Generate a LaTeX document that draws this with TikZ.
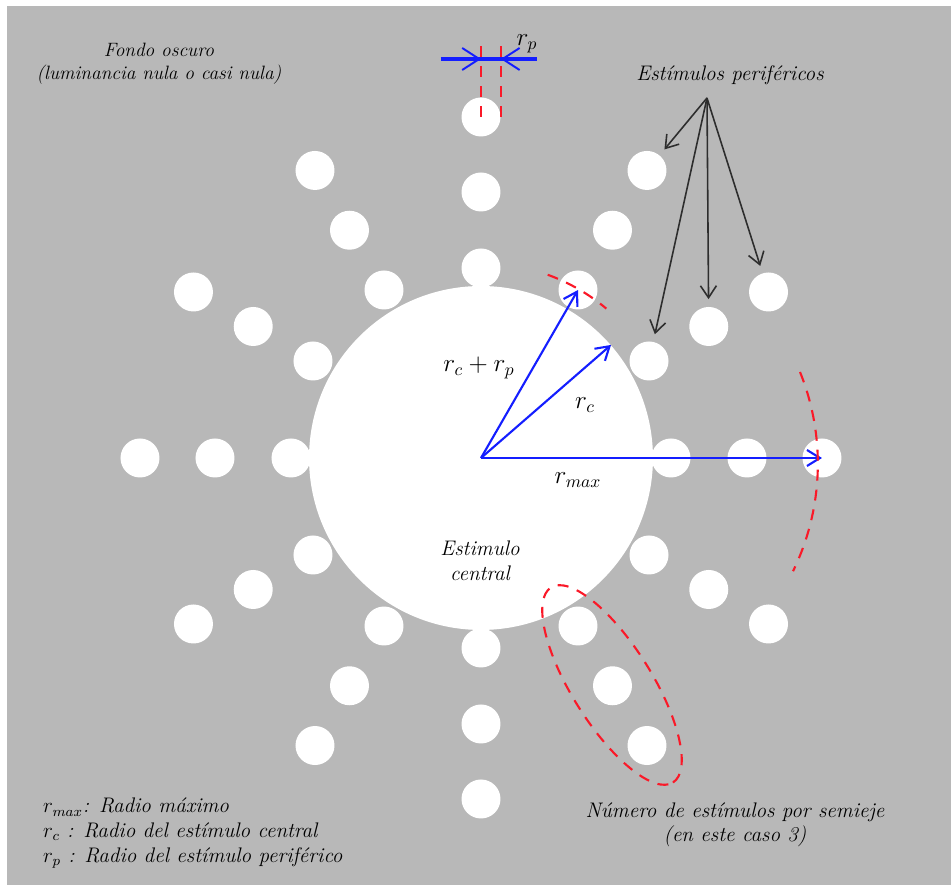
\documentclass[tikz,border=0pt]{standalone}
\usepackage{amsmath}
\usepackage{tikz}
\usetikzlibrary{arrows.meta, positioning}

\definecolor{fondo}{RGB}{184,184,184}
\definecolor{azul}{RGB}{20,30,255}
\definecolor{rojo}{RGB}{250,25,40}
\definecolor{gris}{RGB}{45,45,45}

\begin{document}
\begin{tikzpicture}[x=0.02cm, y=0.02cm,
      dot/.style={circle, fill=white, minimum size=0.78cm, inner sep=0pt},
      lbl/.style={font=\large\itshape, align=center},
      marr/.style={-{Straight Barb[length=2.6mm, width=3.2mm]}, azul, line width=1.2pt},
      parr/.style={-{Straight Barb[length=2.4mm, width=3.2mm]}, gris, line width=0.9pt, shorten >=1.5mm},
      rdash/.style={rojo, line width=1.2pt, dash pattern=on 2.2mm off 1.8mm},
      rpline/.style={azul, line width=2pt, -{Straight Barb[length=3.4mm, width=4.4mm, line width=1.1pt]}}
    ]
  \useasboundingbox (-481,-430) rectangle (470,458);
  \fill[fondo] (-474,-427) rectangle (470,452);

  % estimulos perifericos (3 por semieje)
  \foreach \a in {0,90,180,270} {
    \foreach \r [count=\i] in {190,266,341}
      \node[dot] (p-\a-\i) at (\a:\r) {};
  }
  \foreach \a in {30,60,120,150,210,240,300,330} {
    \foreach \r [count=\i] in {194,263,332}
      \node[dot] (p-\a-\i) at (\a:\r) {};
  }

  % estimulo central
  \node[circle, fill=white, minimum size=6.88cm, inner sep=0pt] (central) at (0,0) {};
  \node[lbl] (central-lbl) at (-1,-103) {Estimulo\\central};

  % radios
  \draw[marr] (central.center) -- (p-60-1.center);
  \draw[marr] (central.center) -- (central.41);
  \draw[marr] (central.center) -- (p-0-3.center);
  \node[font=\Large] (rcrp-lbl) at (-2,90) {$r_c + r_p$};
  \node[font=\Large] (rc-lbl) at (104,53) {$r_c$};
  \node[font=\Large] (rmax-lbl) at (97,-22) {$r_{max}$};

  % arcos
  \draw[rdash] (70:195) arc (70:50:195);
  \draw[rdash] (319,86) arc (22:-26:245);

  % r_p
  \draw[rdash, line width=0.9pt] (p-90-3.center) -- ++(0,77);
  \draw[rdash, line width=0.9pt] (p-90-3.east) -- ++(0,77);
  \coordinate (rp-izq) at (-40,399);
  \coordinate (rp-der) at (56,399);
  \draw[azul, line width=2pt] (rp-izq) -- (rp-der);
  \draw[rpline] (rp-izq) -- (p-90-3.center |- rp-izq);
  \draw[rpline] (rp-der) -- (p-90-3.east |- rp-der);
  \node[font=\Large] (rp-lbl) at (46,414) {$r_p$};

  % etiquetas
  \node[font=\fontsize{11}{13}\selectfont\itshape, align=center] (fondo-lbl) at (-322,394) {Fondo oscuro\\(luminancia nula o casi nula)};
  \node[lbl] (perif) at (249,383) {Estímulos periféricos};
  \coordinate (abanico) at (226,360);
  \foreach \d in {p-60-3, p-30-1, p-30-2, p-30-3}
    \draw[parr] (abanico) -- (\d);

  % semieje
  \draw[rdash, rotate around={-58:(131,-227)}] (131,-227) ellipse (115 and 40);
  \node[lbl] (semieje) at (254,-367) {Número de estímulos por semieje\\(en este caso 3)};

  % leyenda
  \node[anchor=north west, font=\large\itshape, align=left] (leyenda) at (-444,-334)
    {$r_{max}$: Radio máximo\\ $r_c$ : Radio del estímulo central\\ $r_p$ : Radio del estímulo periférico};
\end{tikzpicture}
\end{document}
